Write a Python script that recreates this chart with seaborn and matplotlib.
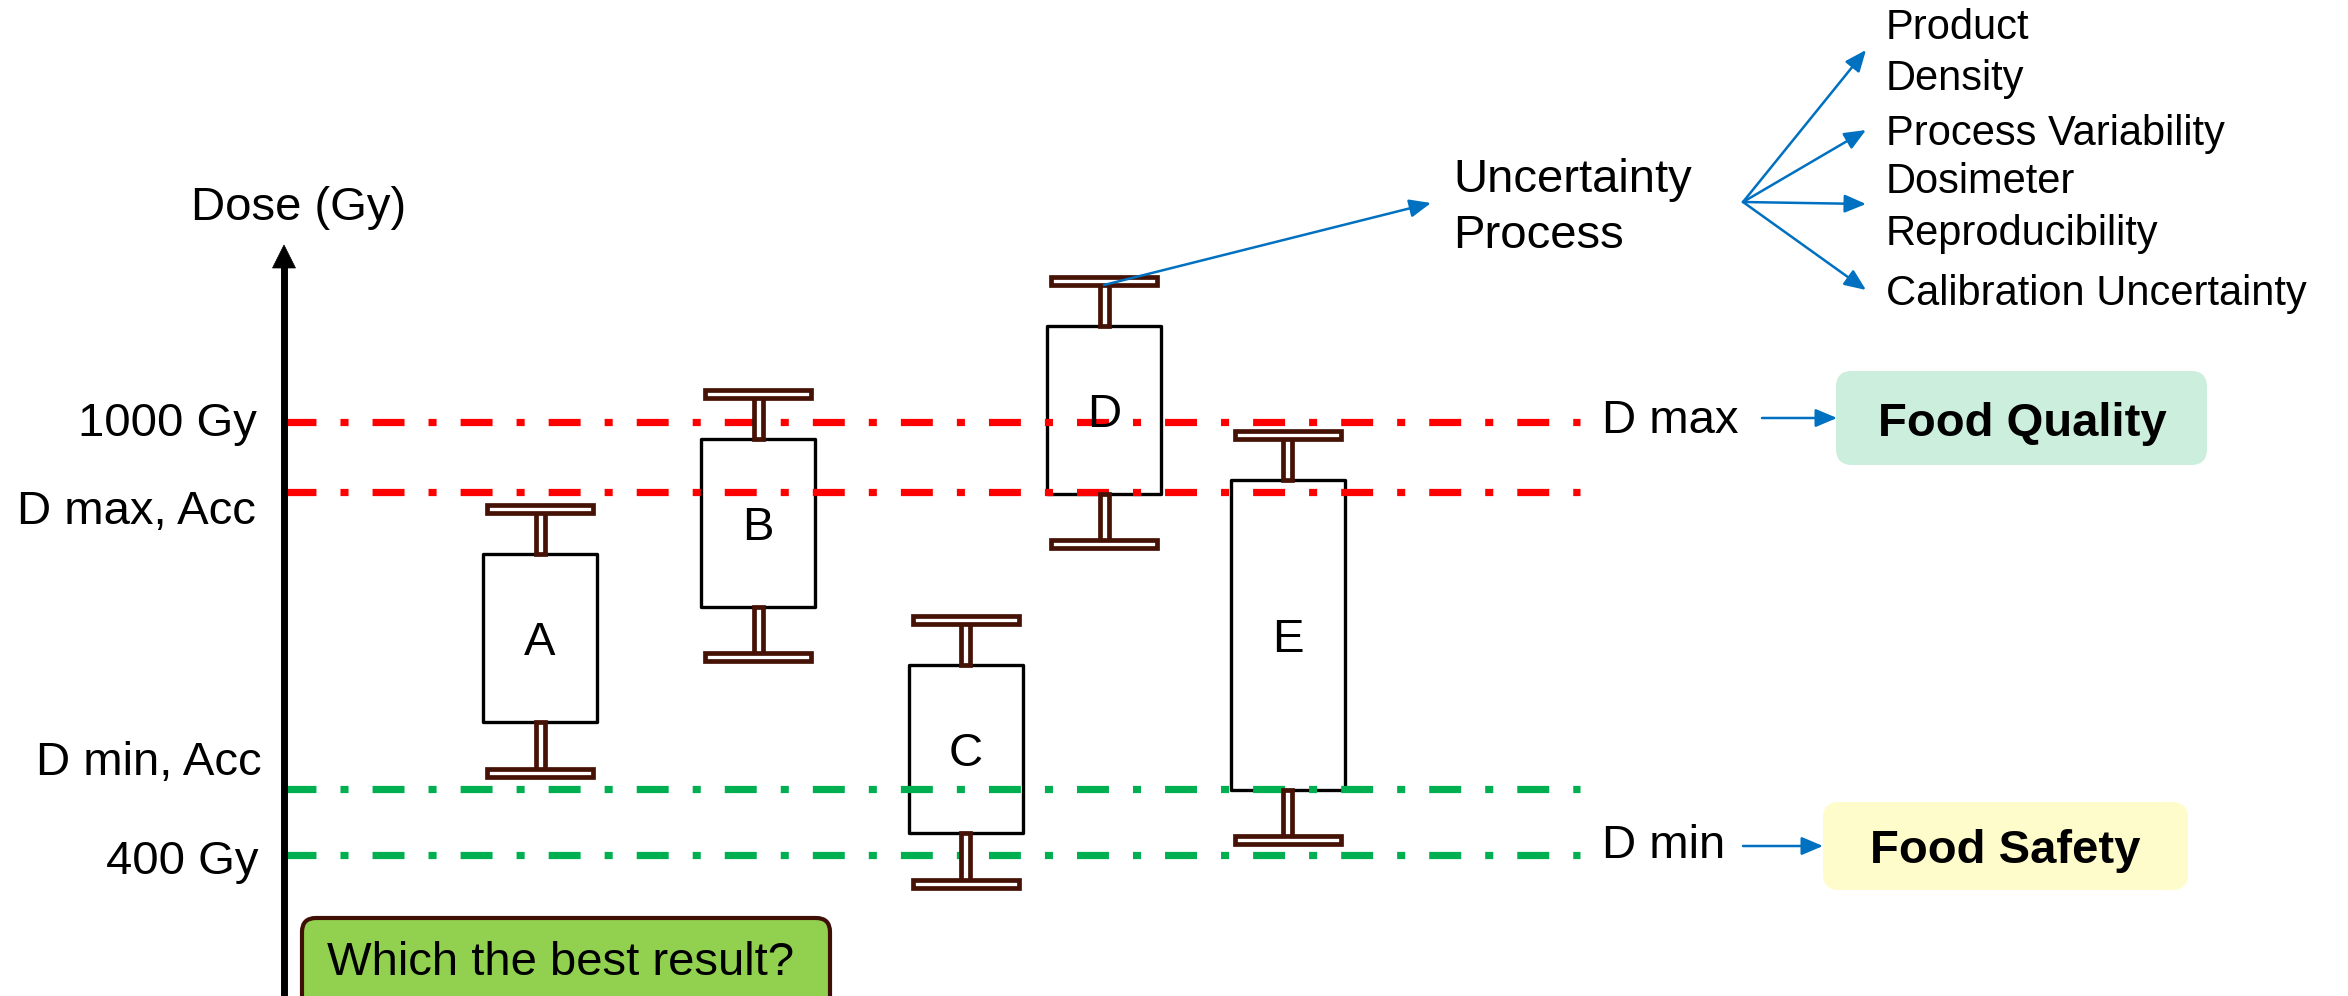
import numpy as np
import pandas as pd
import matplotlib
matplotlib.use("Agg")
import matplotlib.pyplot as plt
import seaborn as sns
from matplotlib.patches import Rectangle, FancyBboxPatch, FancyArrowPatch, Polygon

# ---------------- data ----------------
samples = ["A", "B", "C", "D", "E"]
whisker_low = [514, 674, 360, 831, 421]
box_low = [584, 744, 430, 900, 490]
box_high = [817, 976, 663, 1133, 920]
whisker_high = [879, 1039, 726, 1195, 982]

limit_names = ["1000 Gy", "D max, Acc", "D min, Acc", "400 Gy"]
limit_values = [1000, 903, 492, 400]
limit_kind = ["max", "max", "min", "min"]

uncertainty_lines = ["Product", "Density", "Process Variability",
                     "Dosimeter", "Reproducibility", "Calibration Uncertainty"]

# ---------------- layout ----------------
W, H = 2348, 996
sample_x = [540, 758, 965.5, 1104, 1287.5]       # horizontal slots of the samples
gy_per_px = (1000 - 400) / (855 - 422)
y_top = 1000 + 422 * gy_per_px
y_bot = 400 - (H - 855) * gy_per_px

sns.set_theme(style="white")
plt.rcParams["font.family"] = ["Liberation Sans", "DejaVu Sans"]
plt.rcParams["lines.scale_dashes"] = False
plt.rcParams["text.color"] = "black"

fig = plt.figure(figsize=(W / 100, H / 100), dpi=100)
ax = fig.add_axes([0, 0, 1, 1])
ax.set_xlim(0, W)
ax.set_ylim(y_bot, y_top)
ax.axis("off")

BROWN = "#461206"
BLUE = "#0070C0"
box_w = 114
cap_w = 106
cap_h = 8 * gy_per_px
stem_w = 9

# boxes
for x, lo, hi in zip(sample_x, box_low, box_high):
    ax.add_patch(Rectangle((x - box_w / 2, lo), box_w, hi - lo, facecolor="white",
                           edgecolor="black", lw=2.4, joinstyle="round", zorder=2))

# threshold lines via seaborn
rows = []
for name, v, k in zip(limit_names, limit_values, limit_kind):
    rows.append({"x": 284, "dose": v, "kind": k, "name": name})
    rows.append({"x": 1580, "dose": v, "kind": k, "name": name})
lines_df = pd.DataFrame(rows)
sns.lineplot(data=lines_df, x="x", y="dose", hue="kind", units="name", estimator=None,
             palette={"max": "#FF0000", "min": "#00B050"}, lw=5.2, legend=False,
             linestyle=(0, (23, 17.3, 5.8, 17.3)), dash_capstyle="butt",
             ax=ax, zorder=3)
ax.set_xlim(0, W)
ax.set_ylim(y_bot, y_top)
ax.axis("off")

# whiskers: hollow stems and caps
for x, wl, lo, hi, wh in zip(sample_x, whisker_low, box_low, box_high, whisker_high):
    ax.add_patch(Rectangle((x - stem_w / 2, hi), stem_w, wh - hi, facecolor="white",
                           edgecolor=BROWN, lw=3.4, zorder=4))
    ax.add_patch(Rectangle((x - stem_w / 2, wl), stem_w, lo - wl, facecolor="white",
                           edgecolor=BROWN, lw=3.4, zorder=4))
    for c in (wh, wl):
        ax.add_patch(Rectangle((x - cap_w / 2, c - cap_h / 2), cap_w, cap_h,
                               facecolor="white", edgecolor=BROWN, lw=3.4, zorder=5))

# sample letters
for s, x, lo, hi in zip(samples, sample_x, box_low, box_high):
    ax.annotate(s, xy=(x, (lo + hi) / 2), xytext=(0, -12.2), textcoords="offset points",
                ha="center", va="baseline", fontsize=34, color="black", zorder=6)

# ---------------- overlay in pixel units for annotations ----------------
ov = fig.add_axes([0, 0, 1, 1])
ov.set_xlim(0, W)
ov.set_ylim(H, 0)
ov.axis("off")
ov.patch.set_alpha(0)

# dose axis arrow
ov.plot([284, 284], [H + 10, 264], color="black", lw=5, solid_capstyle="butt")
ov.add_patch(Polygon([(284, 245), (272.5, 268), (295.5, 268)], closed=True,
                     facecolor="black", edgecolor="black", lw=0.5))
ov.text(191, 220, "Dose (Gy)", fontsize=34, ha="left", va="baseline", color="black")

label_pos = {"1000 Gy": (257, 436), "D max, Acc": (256, 524),
             "D min, Acc": (262, 775), "400 Gy": (258, 874)}
for name in limit_names:
    x, y = label_pos[name]
    ov.text(x, y, name, fontsize=34, ha="right", va="baseline", color="black")

# uncertainty annotations
def arrow(p0, p1):
    ov.add_patch(FancyArrowPatch(p0, p1, arrowstyle="-|>,head_length=13,head_width=5.5",
                                 mutation_scale=1, lw=1.8, color=BLUE,
                                 shrinkA=0, shrinkB=0, zorder=7))

arrow((1104, 285), (1431, 203))
ov.text(1453, 192, "Uncertainty", fontsize=34, ha="left", va="baseline", color="black")
ov.text(1453, 248, "Process", fontsize=34, ha="left", va="baseline", color="black")
for tip in [(1866, 50), (1866, 130), (1866, 204), (1866, 290)]:
    arrow((1743, 202), tip)
list_baselines = [39, 90, 145, 193, 245, 305]
for t, b in zip(uncertainty_lines, list_baselines):
    ov.text(1886, b, t, fontsize=30, ha="left", va="baseline", color="black")

# D max / D min consequences
ov.text(1602, 433, "D max", fontsize=34, ha="left", va="baseline", color="black")
arrow((1762, 418), (1837, 418))
ov.add_patch(FancyBboxPatch((1836, 371), 371, 94, boxstyle="round,pad=0,rounding_size=16",
                            facecolor="#CCEEDC", edgecolor="none"))
ov.text(2022, 436, "Food Quality", fontsize=34, fontweight="bold", ha="center",
        va="baseline", color="black")

ov.text(1602, 858, "D min", fontsize=34, ha="left", va="baseline", color="black")
arrow((1743, 846), (1823, 846))
ov.add_patch(FancyBboxPatch((1823, 802), 365, 88, boxstyle="round,pad=0,rounding_size=16",
                            facecolor="#FFFCCC", edgecolor="none"))
ov.text(2005, 863, "Food Safety", fontsize=34, fontweight="bold", ha="center",
        va="baseline", color="black")

# question box
ov.add_patch(FancyBboxPatch((302, 918), 528, 110, boxstyle="round,pad=0,rounding_size=14",
                            facecolor="#92D050", edgecolor="#3F0F05", lw=3))
ov.text(327, 975, "Which the best result?", fontsize=34, ha="left", va="baseline",
        color="black")

fig.savefig("out.png", dpi=100)
